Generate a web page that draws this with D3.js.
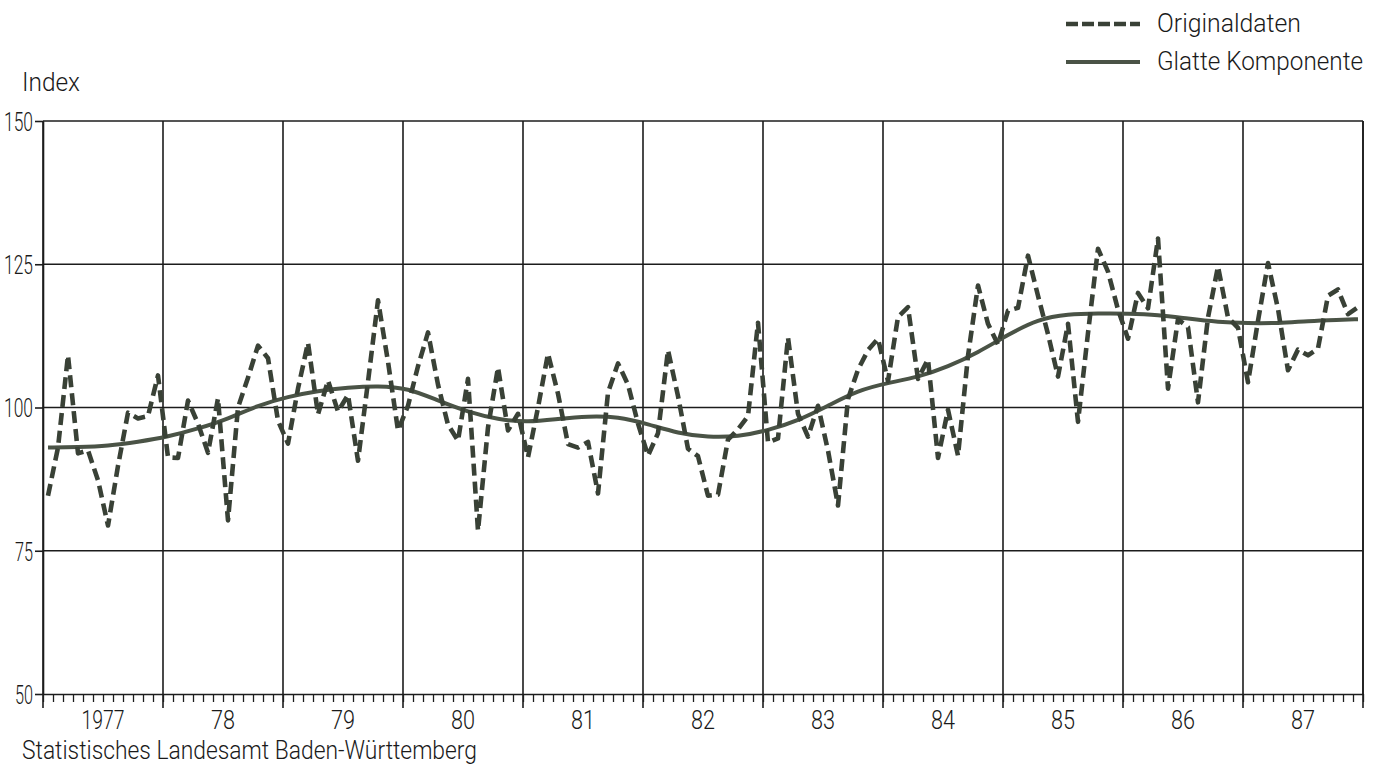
<!DOCTYPE html>
<html><head><meta charset="utf-8">
<script src="https://cdn.jsdelivr.net/npm/d3@7"></script>
<style>
body{margin:0;background:#fff}
svg{display:block}
text{font-family:Roboto,"DejaVu Sans",sans-serif;font-weight:300;fill:#1a1a1a}
</style>
</head><body><svg id="c" width="1381" height="765"></svg>
<script>
// ---- data ----
const yearLabels = ["1977","78","79","80","81","82","83","84","85","86","87"];
const yTicks = [50,75,100,125,150];
const yAxisTitle = "Index";
const sourceNote = "Statistisches Landesamt Baden-Württemberg";
const seriesNames = ["Originaldaten","Glatte Komponente"];

// monthly index values Jan 1977 .. Dec 1987
const original1977 = [84.6,93,109.1,92,92.5,87.3,79.4,89.8,99.1,98.1,98.5,105.6];
const original1978 = [91.3,91.2,101.2,97.2,92.1,101.6,80.3,100,105.2,110.8,108.6,97.7];
const original1979 = [93.7,103.3,111.3,98.8,104.7,99.3,102.2,90.7,104.5,118.7,108,96];
const original1980 = [100.3,107.2,113.1,104,97,94.2,105,78.5,96.5,107,96,98.9];
const original1981 = [91.3,100,109.4,102.4,93.6,93,94,85,102.6,107.7,104,97.2];
const original1982 = [91.6,95.5,110,102,92.8,91.5,84.6,84.8,94.4,96.2,98.5,114.8];
const original1983 = [93.9,94.6,112.2,98.9,94.9,100.3,92.5,82.9,101.5,106.6,110,112];
const original1984 = [104.6,115.8,117.5,105,108.4,91.2,99.6,91.6,109,121.3,114.6,111];
const original1985 = [116.9,117.4,126.5,119.5,112.8,105.4,114.6,97.5,113,127.7,123.7,117.1];
const original1986 = [112,120,117.3,129.5,103.3,115.4,114,100.9,115.7,124.6,115.7,113.9];
const original1987 = [104.4,115.1,125.2,117.2,106.5,110.1,109.1,110.3,119.5,120.6,116.3,117.5];

// smooth component read every quarter (month index from Jan 1977)
const smoothMonth = [0,3,6,9,12,15,18,21,24,27,30,33,36,39,42,45,48,51,54,57,60,63,66,69,72,75,78,81,84,87,90,93,96,99,102,105,108,111,114,117,120,123,126,129,131];
const smoothValue = [93,93.1,93.3,94,94.9,96.3,98,100.4,101.9,102.9,103.5,103.8,103.4,101.2,99.2,97.9,97.4,98,98.5,98.4,97.1,95.5,94.8,94.9,96,97.7,100.3,103,104.3,105.3,107.1,109.6,112.7,115.4,116.3,116.4,116.4,116.2,115.5,114.9,114.7,114.7,115.1,115.3,115.4];

const original = [].concat(original1977,original1978,original1979,original1980,original1981,
  original1982,original1983,original1984,original1985,original1986,original1987);
const smooth = smoothMonth.map((m,i)=>({m, v: smoothValue[i]}));

// ---- chart ----
const svg = d3.select("#c");
const nMonths = yearLabels.length*12;
const x = d3.scaleLinear().domain([0,nMonths]).range([43,1363]);
const y = d3.scaleLinear().domain([50,150]).range([694,121]);
const ink = "#1c1c1c";
const lineCol = "#394136";
const smoothCol = "#4a5346";
const FONT = 'Roboto,"DejaVu Sans",sans-serif';

// horizontal grid lines
svg.append("g").selectAll("line").data(yTicks.filter(v=>v>50)).join("line")
  .attr("x1",x(0)).attr("x2",x(nMonths)).attr("y1",d=>y(d)).attr("y2",d=>y(d))
  .attr("stroke",ink).attr("stroke-width",1.6);

// vertical year lines
svg.append("g").selectAll("line").data(d3.range(0,yearLabels.length+1)).join("line")
  .attr("x1",d=>x(d*12)).attr("x2",d=>x(d*12)).attr("y1",y(150)).attr("y2",y(50)+14)
  .attr("stroke",ink).attr("stroke-width",1.6);

// bottom axis with month ticks
const xAxis = d3.axisBottom(x).tickValues(d3.range(0,nMonths+1)).tickSize(8).tickFormat("").tickSizeOuter(0);
const gx = svg.append("g").attr("transform",`translate(0,${y(50)})`).call(xAxis);
gx.select(".domain").attr("stroke",ink).attr("stroke-width",1.6);
gx.selectAll(".tick line").attr("stroke",ink).attr("stroke-width",1.3);

// year labels
svg.append("g").selectAll("text").data(yearLabels).join("text")
  .attr("x",(d,i)=>x(i*12+6)).attr("y",729).attr("text-anchor","middle")
  .attr("font-size",26).attr("textLength",d=>d.length===4?43:24).attr("lengthAdjust","spacingAndGlyphs")
  .text(d=>d);

// left axis
const yAxis = d3.axisLeft(y).tickValues(yTicks).tickSize(8).tickPadding(2).tickSizeOuter(0);
const gy = svg.append("g").attr("transform",`translate(${x(0)},0)`).call(yAxis);
gy.select(".domain").attr("stroke",ink).attr("stroke-width",1.6);
gy.selectAll(".tick line").attr("stroke",ink).attr("stroke-width",1.6);
gy.selectAll(".tick text").attr("font-size",26).attr("font-family",FONT).attr("font-weight",300)
  .attr("fill","#1a1a1a").attr("dy","0.36em")
  .attr("textLength",d=>d>=100?29:18).attr("lengthAdjust","spacingAndGlyphs");

// right border
svg.append("line").attr("x1",x(nMonths)).attr("x2",x(nMonths)).attr("y1",y(150)).attr("y2",y(50))
  .attr("stroke",ink).attr("stroke-width",1.6);

// smooth component
const smoothLine = d3.line().x(d=>x(d.m+0.5)).y(d=>y(d.v)).curve(d3.curveBasis);
svg.append("path").datum(smooth).attr("d",smoothLine)
  .attr("fill","none").attr("stroke",smoothCol).attr("stroke-width",4);

// original data (dashed)
const origLine = d3.line().x((d,i)=>x(i+0.5)).y(d=>y(d));
svg.append("path").datum(original).attr("d",origLine)
  .attr("fill","none").attr("stroke",lineCol).attr("stroke-width",4.6)
  .attr("stroke-dasharray","12,6").attr("stroke-linejoin","round");

// title & source
svg.append("text").attr("x",22).attr("y",91).attr("font-size",25)
  .attr("textLength",58).attr("lengthAdjust","spacingAndGlyphs").text(yAxisTitle);
svg.append("text").attr("x",22).attr("y",759).attr("font-size",25)
  .attr("textLength",455).attr("lengthAdjust","spacingAndGlyphs").text(sourceNote);

// legend
const lg = svg.append("g");
lg.append("line").attr("x1",1066).attr("x2",1140).attr("y1",24).attr("y2",24)
  .attr("stroke",lineCol).attr("stroke-width",4.6).attr("stroke-dasharray","12,4");
lg.append("line").attr("x1",1066).attr("x2",1140).attr("y1",62).attr("y2",62)
  .attr("stroke",smoothCol).attr("stroke-width",4);
lg.selectAll("text").data(seriesNames).join("text")
  .attr("x",1157).attr("y",(d,i)=>32+i*38).attr("font-size",25)
  .attr("textLength",(d,i)=>i===0?144:206).attr("lengthAdjust","spacingAndGlyphs").text(d=>d);
</script>
</body></html>
